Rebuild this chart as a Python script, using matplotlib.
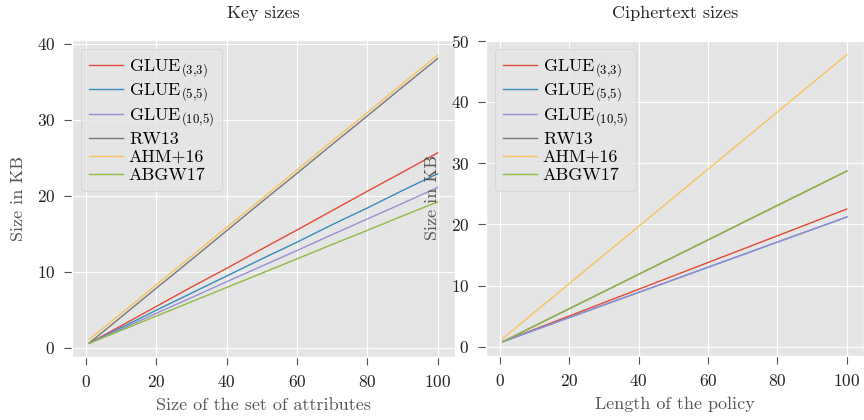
import matplotlib
matplotlib.use("Agg")
import matplotlib.pyplot as plt
import numpy as np

plt.style.use("ggplot")
plt.rcParams["font.family"] = "serif"
plt.rcParams["font.serif"] = ["cmr10"]
plt.rcParams["mathtext.fontset"] = "cm"
plt.rcParams["axes.formatter.use_mathtext"] = True

# x positions where values were read
x_pts = [1, 10, 20, 30, 40, 50, 60, 70, 80, 90, 100]

series_names = [r"GLUE$_{(3{,}3)}$", r"GLUE$_{(5{,}5)}$", r"GLUE$_{(10{,}5)}$",
                "RW13", "AHM+16", "ABGW17"]

# Key sizes (KB) vs size of the set of attributes
key_glue33 = [0.61, 2.9, 5.45, 8.0, 10.45, 13.0, 15.5, 18.05, 20.6, 23.1, 25.65]
key_glue55 = [0.61, 2.65, 4.95, 7.2, 9.45, 11.7, 13.9, 16.2, 18.4, 20.7, 22.9]
key_glue105 = [0.61, 2.45, 4.55, 6.6, 8.7, 10.75, 12.8, 14.9, 16.95, 19.0, 21.1]
key_rw13 = [0.66, 4.05, 7.85, 11.6, 15.4, 19.2, 22.95, 26.75, 30.5, 34.3, 38.05]
key_ahm16 = [1.14, 4.5, 8.3, 12.05, 15.85, 19.6, 23.4, 27.2, 30.95, 34.75, 38.5]
key_abgw17 = [0.61, 2.3, 4.18, 6.06, 7.94, 9.82, 11.7, 13.6, 15.45, 17.35, 19.2]

# Ciphertext sizes (KB) vs length of the policy
ct_glue33 = [0.87, 2.84, 5.02, 7.21, 9.39, 11.58, 13.76, 15.95, 18.13, 20.32, 22.5]
ct_glue55 = [0.87, 2.72, 4.77, 6.83, 8.88, 10.93, 12.99, 15.04, 17.1, 19.15, 21.2]
ct_glue105 = [0.87, 2.72, 4.77, 6.83, 8.88, 10.93, 12.99, 15.04, 17.1, 19.15, 21.2]
ct_rw13 = [0.87, 3.4, 6.21, 9.02, 11.83, 14.64, 17.45, 20.27, 23.08, 25.89, 28.7]
ct_ahm16 = [1.42, 5.63, 10.3, 14.98, 19.65, 24.33, 29.0, 33.68, 38.35, 43.03, 47.7]
ct_abgw17 = [0.87, 3.4, 6.21, 9.02, 11.83, 14.64, 17.45, 20.27, 23.08, 25.89, 28.7]

key_series = [key_glue33, key_glue55, key_glue105, key_rw13, key_ahm16, key_abgw17]
ct_series = [ct_glue33, ct_glue55, ct_glue105, ct_rw13, ct_ahm16, ct_abgw17]

colors = ["#E24A33", "#348ABD", "#988ED5", "#777777", "#FBC15E", "#8EBA42"]

fig = plt.figure(figsize=(8.64, 4.2), dpi=100)
ax1 = fig.add_axes([72 / 864, 1 - 357 / 420, 383 / 864, 317 / 420])
ax2 = fig.add_axes([486 / 864, 1 - 356 / 420, 378 / 864, 316 / 420])

panels = [
    (ax1, key_series, "Key sizes", "Size of the set of attributes"),
    (ax2, ct_series, "Ciphertext sizes", "Length of the policy"),
]

for ax, data, title, xlabel in panels:
    for name, vals, c in zip(series_names, data, colors):
        ax.plot(x_pts, vals, color=c, lw=1.0, label=name)
    ax.set_title(title, fontsize=13, color="#222222", pad=16)
    ax.set_xlabel(xlabel, fontsize=13, color="#555555", labelpad=6)
    ax.set_ylabel("Size in KB", fontsize=13, color="#555555", labelpad=8)
    ax.tick_params(labelsize=12.5, labelcolor="#222222", color="#555555",
                   length=6, pad=6)
    ax.set_xticks([0, 20, 40, 60, 80, 100])
    ax.legend(loc="upper left", fontsize=13, handlelength=1.85,
              labelspacing=0.13, borderpad=0.45, handletextpad=0.35)

ax1.set_yticks([0, 10, 20, 30, 40])
ax2.set_yticks([0, 10, 20, 30, 40, 50])
ax1.set_ylim(-1.2, 40.5)
ax2.set_ylim(-1.5, 50.1)

fig.savefig("out.png", dpi=100)
